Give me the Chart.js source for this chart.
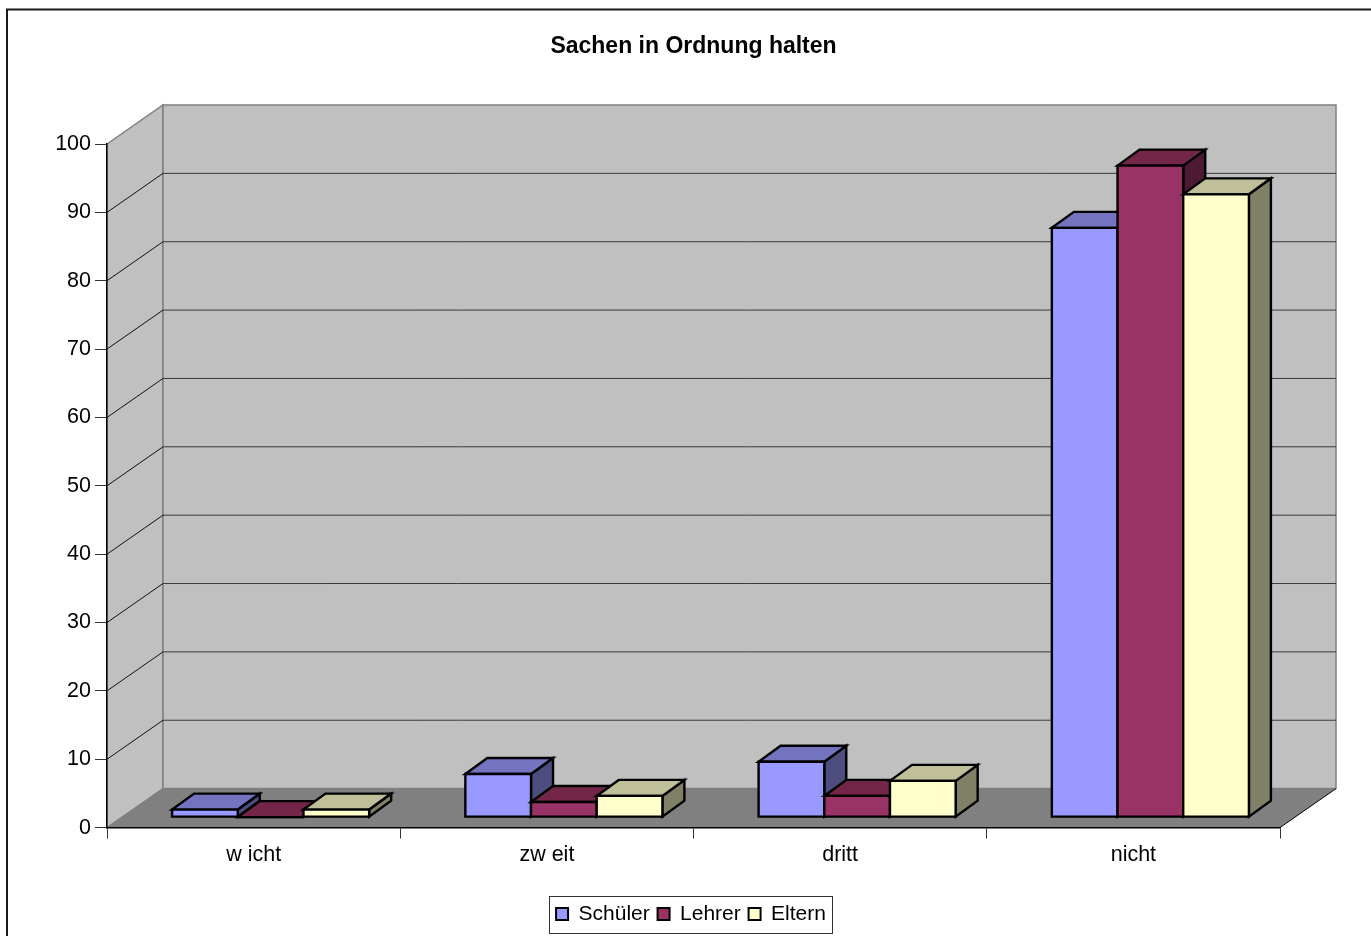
<!DOCTYPE html>
<html>
<head>
<meta charset="utf-8">
<title>Sachen in Ordnung halten</title>
<script src="https://cdn.jsdelivr.net/npm/chart.js@4/dist/chart.umd.min.js"></script>
<style>
  html, body { margin: 0; padding: 0; background: #fff; overflow: hidden; }
  .chart-container { position: relative; width: 1371px; height: 936px; }
  canvas { display: block; }
</style>
</head>
<body>
<div class="chart-container"><canvas id="myChart" width="1371" height="936"></canvas></div>
<script>
const categories = ['w icht', 'zw eit', 'dritt', 'nicht'];
const schueler = [1.1, 6.3, 8.1, 86.2];
const lehrer = [0, 2.2, 3.1, 95.3];
const eltern = [1.1, 3.1, 5.3, 91.1];

// front colour, lid colour, side colour
const shades = [
  ['#9999ff', '#7373bf', '#4d4d80'],
  ['#993366', '#732647', '#4d1a33'],
  ['#ffffcc', '#bfbf99', '#808066'],
];

// how far the back wall sits behind the axes
const depthX = 56;
const depthY = -39;
// the boxes stand a bit in from the front of the floor
const boxShiftX = 17;
const boxShiftY = -10.5;
const boxDepthX = 22;
const boxDepthY = -16;

const poly = (ctx, pts, fill, stroke, lw) => {
  ctx.beginPath();
  pts.forEach((p, i) => i ? ctx.lineTo(p[0], p[1]) : ctx.moveTo(p[0], p[1]));
  ctx.closePath();
  if (fill) {
    ctx.fillStyle = fill;
    ctx.fill();
  }
  if (stroke) {
    ctx.strokeStyle = stroke;
    ctx.lineWidth = lw;
    ctx.stroke();
  }
};

const line = (ctx, x1, y1, x2, y2, color, lw) => {
  ctx.beginPath();
  ctx.moveTo(x1, y1);
  ctx.lineTo(x2, y2);
  ctx.strokeStyle = color;
  ctx.lineWidth = lw;
  ctx.stroke();
};

const box3d = (ctx, el, colors) => {
  const { x, y, base, width } = el.getProps(['x', 'y', 'base', 'width']);
  const l = x - width / 2;
  const r = x + width / 2;
  const dx = boxDepthX;
  const dy = boxDepthY;
  ctx.lineJoin = 'miter';
  if (base - y > 0.5) {
    poly(ctx, [[r, y], [r + dx, y + dy], [r + dx, base + dy], [r, base]], colors[2], '#000', 2.4);
  }
  poly(ctx, [[l, y], [l + dx, y + dy], [r + dx, y + dy], [r, y]], colors[1], '#000', 2.4);
  if (base - y > 0.5) {
    poly(ctx, [[l, y], [r, y], [r, base], [l, base]], colors[0], '#000', 2.4);
  } else {
    line(ctx, l, base, r, base, '#000', 2.4);
  }
};

const scene3d = {
  id: 'scene3d',
  afterLayout(chart) {
    // nudge the legend into its frame
    chart.legend.left -= 2.5;
    chart.legend.right -= 2.5;
    chart.legend.top -= 1.4;
    chart.legend.bottom -= 1.4;
  },
  beforeDraw(chart) {
    const { ctx, chartArea: a, scales } = chart;
    const l = a.left;
    const r = a.right;
    const t = a.top;
    const b = a.bottom;
    ctx.save();

    // page frame, runs off to the right and the bottom
    ctx.beginPath();
    ctx.moveTo(7, chart.height);
    ctx.lineTo(7, 9.5);
    ctx.lineTo(chart.width, 9.5);
    ctx.strokeStyle = '#1a1a1a';
    ctx.lineWidth = 2;
    ctx.stroke();

    // walls and floor
    poly(ctx, [[l, t], [l + depthX, t + depthY], [l + depthX, b + depthY], [l, b]], '#c0c0c0', '#808080', 1.5);
    poly(ctx, [[l + depthX, t + depthY], [r + depthX, t + depthY], [r + depthX, b + depthY], [l + depthX, b + depthY]], '#c0c0c0', '#808080', 1.5);
    poly(ctx, [[l, b], [l + depthX, b + depthY], [r + depthX, b + depthY], [r, b]], '#808080', null);
    line(ctx, l, b, l + depthX, b + depthY, '#808080', 1);
    line(ctx, r, b, r + depthX, b + depthY, '#000', 1);

    // gridlines go along the side wall and across the back
    scales.y.ticks.forEach(tick => {
      if (tick.value === 0 || tick.value === 100) return;
      const y = scales.y.getPixelForValue(tick.value);
      line(ctx, l, y, l + depthX, y + depthY, '#111', 1);
      line(ctx, l + depthX, y + depthY, r + depthX, y + depthY, '#3a3a3a', 1);
    });
    ctx.restore();
  },
  beforeDatasetsDraw(chart) {
    const { ctx } = chart;
    ctx.save();
    ctx.translate(boxShiftX, boxShiftY);
    // left to right so the next box covers the side of the one before
    chart.data.datasets.forEach((ds, i) => {
      chart.getDatasetMeta(i).data.forEach(el => box3d(ctx, el, shades[i]));
    });
    ctx.restore();
    return false;
  },
  afterDraw(chart) {
    // frame around the legend
    const { ctx } = chart;
    ctx.save();
    ctx.strokeStyle = '#333';
    ctx.lineWidth = 1;
    ctx.strokeRect(549.5, 896.5, 283, 37);
    ctx.restore();
  },
};

const makeDataset = (label, data, i) => ({
  label,
  data,
  backgroundColor: shades[i][0],
  borderColor: '#000',
  borderWidth: 2,
});

const ctx = document.getElementById('myChart').getContext('2d');
Chart.defaults.font.family = '"Liberation Sans", Arial, sans-serif';
Chart.defaults.color = '#000';

const myChart = new Chart(ctx, {
  type: 'bar',
  plugins: [scene3d],
  data: {
    labels: categories,
    datasets: [
      makeDataset('Schüler', schueler, 0),
      makeDataset('Lehrer', lehrer, 1),
      makeDataset('Eltern', eltern, 2),
    ],
  },
  options: {
    responsive: false,
    animation: false,
    events: [],
    categoryPercentage: 0.672,
    barPercentage: 1,
    layout: { padding: { top: 0, right: 91, bottom: 0, left: 0 } },
    plugins: {
      tooltip: { enabled: false },
      title: {
        display: true,
        fullSize: false,
        text: 'Sachen in Ordnung halten',
        font: { size: 23, weight: 'bold', lineHeight: 1.2 },
        color: '#000',
        padding: { top: 33.2, bottom: 83.2 },
      },
      legend: {
        position: 'bottom',
        fullSize: false,
        labels: {
          boxWidth: 12,
          boxHeight: 12,
          padding: 7.8,
          font: { size: 21, lineHeight: 1.2 },
          color: '#000',
          generateLabels: chart => chart.data.datasets.map((ds, i) => ({
            text: ds.label,
            fillStyle: shades[i][0],
            strokeStyle: '#000',
            lineWidth: 2,
            datasetIndex: i,
          })),
        },
      },
    },
    scales: {
      x: {
        offset: true,
        afterFit: s => { s.height = 69.6; },
        border: { color: '#000', width: 1.5 },
        grid: { drawOnChartArea: false, drawTicks: true, tickLength: 11, color: '#333', offset: true },
        ticks: { font: { size: 21.5 }, color: '#000', padding: 4, maxRotation: 0, autoSkip: false },
      },
      y: {
        min: 0,
        max: 100,
        afterFit: s => { s.width = 107; },
        border: { color: '#000', width: 1.5 },
        grid: { drawOnChartArea: false, drawTicks: true, tickLength: 12, color: '#333' },
        ticks: { stepSize: 10, font: { size: 21.5 }, color: '#000', padding: 4 },
      },
    },
  },
});
</script>
</body>
</html>
